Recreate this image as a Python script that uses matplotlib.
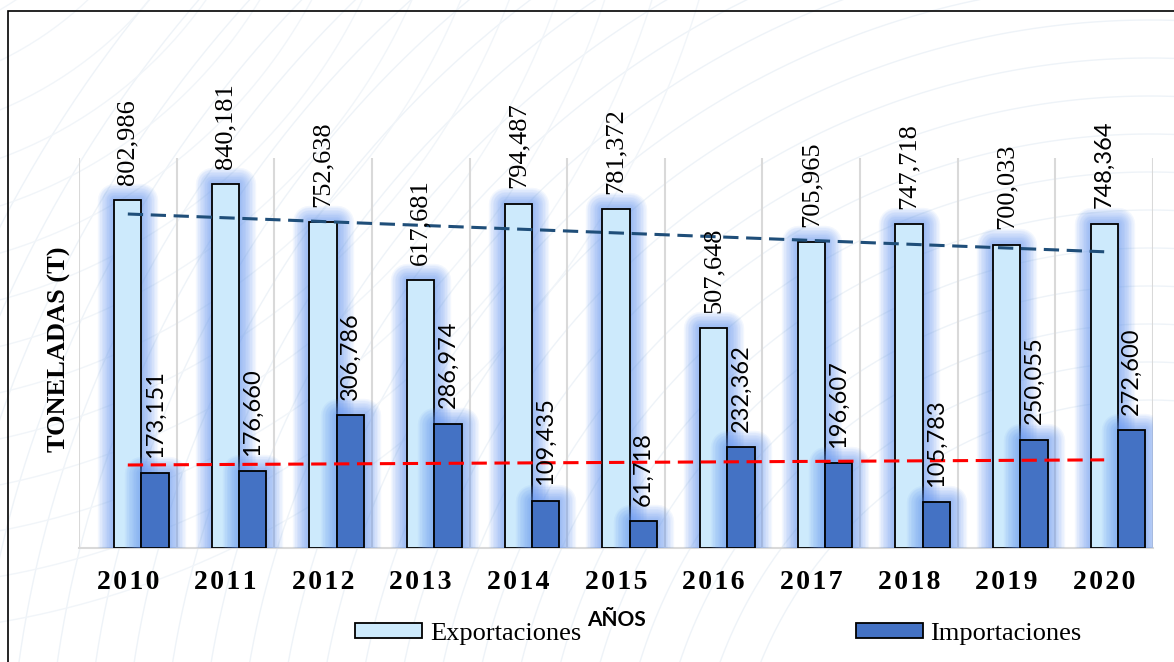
import numpy as np
import matplotlib
matplotlib.use("Agg")
import matplotlib.pyplot as plt
import matplotlib.patheffects as pe
from matplotlib.patches import Rectangle, Patch

# datos (toneladas)
years = ['2010', '2011', '2012', '2013', '2014', '2015', '2016', '2017', '2018', '2019', '2020']
exportaciones = [802986, 840181, 752638, 617681, 794487, 781372, 507648, 705965, 747718, 700033, 748364]
importaciones = [173151, 176660, 306786, 286974, 109435, 61718, 232362, 196607, 105783, 250055, 272600]

SERIF = ['Liberation Serif', 'DejaVu Serif']
SANS = ['Lato', 'DejaVu Sans']
export_label_fonts = [SERIF] * 10 + [SANS]

c_exp = '#cdeafc'
c_imp = '#4472c4'
c_glow = '#5f93f2'

fig = plt.figure(figsize=(11.74, 6.62), dpi=100)

# fondo decorativo (lineas tenues)
bg = fig.add_axes([0, 0, 1, 1], zorder=-5)
bg.set_xlim(0, 1174)
bg.set_ylim(662, 0)
bg.axis('off')
t = np.linspace(0, 2 * np.pi, 400)
for r in range(420, 1300, 38):
    bg.plot(1150 + r * np.cos(t), 820 + r * np.sin(t), color='#eef3f8', lw=1.0)
for r in range(300, 900, 45):
    bg.plot(-150 + r * np.cos(t), -250 + r * np.sin(t), color='#f1f5f9', lw=1.0)

# marco exterior
fig.patches.append(Rectangle((8 / 1174, -0.1), 1.2, 1.1 - 11 / 662, transform=fig.transFigure,
                             fill=False, edgecolor='black', lw=1.2))

ax = fig.add_axes([79 / 1174, 1 - 548 / 662, 1074 / 1174, 390 / 662])
ax.patch.set_alpha(0)
x = np.arange(len(years))
w = 0.28


def glow():
    fx = []
    for lw in range(24, 1, -2):
        fx.append(pe.Stroke(linewidth=lw, foreground=c_glow, alpha=0.07, joinstyle='round'))
    fx.append(pe.Normal())
    return fx


b1 = ax.bar(x, exportaciones, w, color=c_exp, edgecolor='black', lw=1.3, zorder=3)
b2 = ax.bar(x + w, importaciones, w, color=c_imp, edgecolor='black', lw=1.3, zorder=4)
for p in list(b1) + list(b2):
    p.set_path_effects(glow())

# lineas de tendencia
for vals, col in [(exportaciones, '#1f4e79'), (importaciones, '#ff0000')]:
    m, b = np.polyfit(x, vals, 1)
    ax.plot(x, m * x + b, color=col, lw=2.2, dashes=(5, 2.5), zorder=6)

# etiquetas de valores
for i in range(len(years)):
    ax.annotate(f'{exportaciones[i]:,}', (x[i], exportaciones[i]), xytext=(0, 11),
                textcoords='offset points', rotation=90, ha='center', va='bottom',
                fontsize=19 if export_label_fonts[i] == SERIF else 17,
                fontfamily=export_label_fonts[i], annotation_clip=False, zorder=7)
    ax.annotate(f'{importaciones[i]:,}', (x[i] + w, importaciones[i]), xytext=(0, 11),
                textcoords='offset points', rotation=90, ha='center', va='bottom',
                fontsize=17, fontfamily=SANS, annotation_clip=False, zorder=7)

ax.vlines(np.arange(len(years) + 1) - 0.5, 0, 900000, color='#d9d9d9', lw=1.5, zorder=1)
ax.set_xlim(-0.5, len(years) - 0.5)
ax.set_ylim(0, 900000)
ax.set_yticks([])
ax.set_xticks(x)
ax.set_xticklabels(['\u200a'.join(y) for y in years], fontfamily=SERIF, fontweight='bold', fontsize=20)
ax.tick_params(axis='x', length=0, pad=16)
for s in ['left', 'top', 'right']:
    ax.spines[s].set_visible(False)
ax.spines['bottom'].set_color('#d9d9d9')
ax.spines['bottom'].set_linewidth(1.5)

fig.text(59 / 1174, 1 - 349 / 662, 'TONELADAS (T)', rotation=90, ha='center', va='center',
         fontfamily=SERIF, fontweight='bold', fontsize=19)
fig.text(616 / 1174, 1 - 620 / 662, 'AÑOS', ha='center', va='center',
         fontfamily=SANS, fontweight='bold', fontsize=15)

handles = [Patch(facecolor=c_exp, edgecolor='black', lw=1.3, label='Exportaciones'),
           Patch(facecolor=c_imp, edgecolor='black', lw=1.3, label='Importaciones')]
fig.legend(handles=handles, loc='center left', bbox_to_anchor=(355 / 1174, 1 - 634 / 662),
           ncol=2, frameon=False, borderpad=0, borderaxespad=0, handlelength=2.54,
           handleheight=0.53, handletextpad=0.3, columnspacing=10.4,
           prop={'family': SERIF, 'size': 19})

fig.savefig('out.png', dpi=100)
